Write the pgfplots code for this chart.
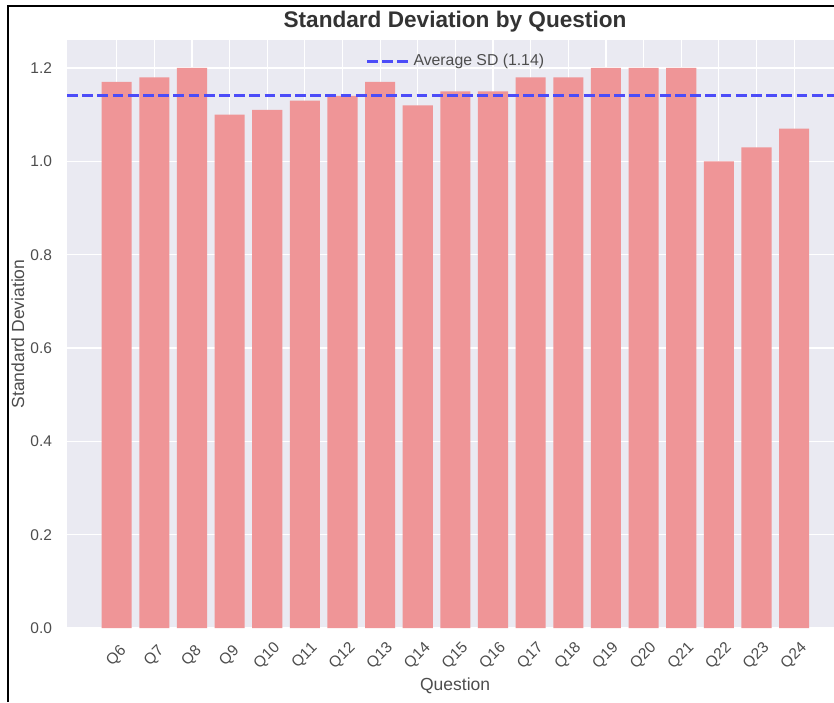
\documentclass[border=0pt]{standalone}
\usepackage{pgfplots}
\pgfplotsset{compat=1.18}
\usepackage{fontspec}
\setmainfont{Liberation Sans}
\definecolor{bgc}{HTML}{EAEAF2}
\definecolor{barc}{HTML}{EF9597}
\definecolor{avgc}{HTML}{4C4CF8}
\definecolor{tickc}{HTML}{4D4D4D}
\definecolor{titc}{HTML}{333333}
\begin{document}
\begin{tikzpicture}
\begin{axis}[
  scale only axis, width=383.5pt, height=294pt,
  xmin=-1.32, xmax=19.06, ymin=0, ymax=1.26,
  axis background/.style={fill=bgc},
  axis line style={draw=none},
  major tick length=0pt,
  xtick={0,...,18},
  xticklabels={Q6,Q7,Q8,Q9,Q10,Q11,Q12,Q13,Q14,Q15,Q16,Q17,Q18,Q19,Q20,Q21,Q22,Q23,Q24},
  ytick={0,0.2,0.4,0.6,0.8,1.0,1.2},
  /pgf/number format/assume math mode=true,
  yticklabel style={/pgf/number format/fixed, /pgf/number format/fixed zerofill,
    /pgf/number format/precision=1, font=\fontsize{7.75pt}{9pt}\selectfont, color=tickc, xshift=-4pt},
  xticklabel style={font=\fontsize{7.75pt}{9pt}\selectfont, color=tickc, anchor=center, yshift=-14pt, rotate=45},
  grid=major, major grid style={white, line width=0.6pt},
  xlabel={Question}, ylabel={Standard Deviation},
  xlabel style={at={(axis description cs:0.506,-0.0986)}, anchor=center, font=\fontsize{8.75pt}{10pt}\selectfont, color=tickc},
  ylabel style={at={(axis description cs:-0.0639,0.5)}, anchor=center, rotate=0, font=\fontsize{8.75pt}{10pt}\selectfont, color=tickc},
  legend style={draw=none, fill=none, at={(axis description cs:0.3887,0.964)}, anchor=west,
    font=\fontsize{7.9pt}{9pt}\selectfont, text=tickc, inner xsep=0pt},
  legend image code/.code={\draw[#1] (0pt,0pt) -- (16.5pt,0pt); \path (0pt,0pt) -- (20.5pt,0pt);},
]
\addplot[ybar, bar width=0.8, fill=barc, draw=none, forget plot] coordinates {
(0,1.17) (1,1.18) (2,1.20) (3,1.10) (4,1.11) (5,1.13) (6,1.14) (7,1.17) (8,1.12) (9,1.15)
(10,1.15) (11,1.18) (12,1.18) (13,1.20) (14,1.20) (15,1.20) (16,1.00) (17,1.03) (18,1.07)};
\addplot[avgc, line width=1.5pt, dash pattern=on 5.4pt off 2.2pt] coordinates {(-1.32,1.14) (19.06,1.14)};
\addlegendentry{Average SD (1.14)}
\end{axis}
\node[anchor=center, font=\bfseries\fontsize{11.3pt}{13pt}\selectfont, text=titc] at ([shift={(194pt,9pt)}]current axis.north west) {Standard Deviation by Question};
\draw[black, line width=1pt] ([shift={(-29.5pt,-37pt)}]current axis.south west) -- ([shift={(-29.5pt,17pt)}]current axis.north west) -- ([shift={(0pt,17pt)}]current axis.north east);
\pgfresetboundingbox
\path[use as bounding box] ([shift={(-33.5pt,-37pt)}]current axis.south west) rectangle ([shift={(0pt,20pt)}]current axis.north east);
\end{tikzpicture}
\end{document}
